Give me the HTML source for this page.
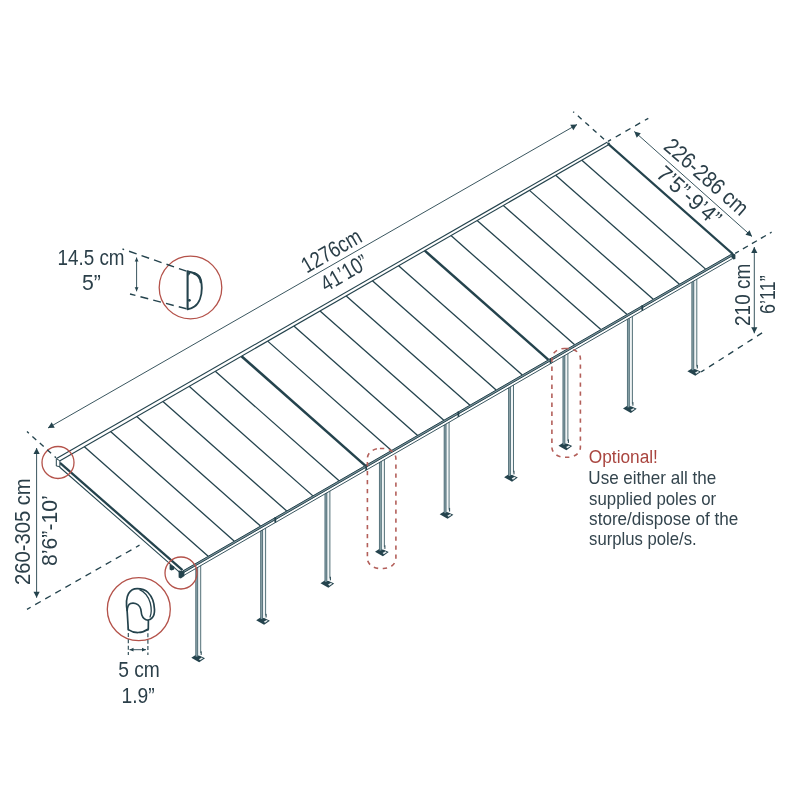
<!DOCTYPE html>
<html lang="en"><head><meta charset="utf-8"><title>Patio cover dimensions</title>
<style>
html,body{margin:0;padding:0;background:#fff;}
body{width:800px;height:800px;overflow:hidden;}
svg{display:block;will-change:transform;}
text{font-family:"Liberation Sans",sans-serif;}
</style></head><body>
<svg width="800" height="800" viewBox="0 0 800 800">
<rect width="800" height="800" fill="#fff"/>
<polygon points="58.2,460.2 608.0,142.75 732.4,253.65 182.6,571.1" fill="#fff"/>
<polygon points="191.30,657.73 196.70,654.33 205.00,658.13 199.20,662.23" fill="#24434d"/>
<polygon points="198.90,659.13 201.70,657.43 203.10,658.33 200.10,660.23" fill="#e8eef0"/>
<rect x="199.50" y="651.33" width="2.2" height="3.6" fill="#24434d"/>
<rect x="195.70" y="565.03" width="5.0" height="90.50" fill="#f1f5f6"/>
<rect x="195.70" y="565.03" width="2.0" height="91.50" fill="#8ea6ac"/>
<line x1="195.75" y1="565.03" x2="195.75" y2="656.53" stroke="#365761" stroke-width="0.75" />
<line x1="197.65" y1="565.03" x2="197.65" y2="656.53" stroke="#365761" stroke-width="0.75" />
<line x1="200.70" y1="565.03" x2="200.70" y2="653.03" stroke="#365761" stroke-width="0.85" />
<polygon points="256.20,620.26 261.60,616.86 269.90,620.66 264.10,624.76" fill="#24434d"/>
<polygon points="263.80,621.66 266.60,619.96 268.00,620.86 265.00,622.76" fill="#e8eef0"/>
<rect x="264.40" y="613.86" width="2.2" height="3.6" fill="#24434d"/>
<rect x="260.60" y="527.56" width="5.0" height="90.50" fill="#f1f5f6"/>
<rect x="260.60" y="527.56" width="2.0" height="91.50" fill="#8ea6ac"/>
<line x1="260.65" y1="527.56" x2="260.65" y2="619.06" stroke="#365761" stroke-width="0.75" />
<line x1="262.55" y1="527.56" x2="262.55" y2="619.06" stroke="#365761" stroke-width="0.75" />
<line x1="265.60" y1="527.56" x2="265.60" y2="615.56" stroke="#365761" stroke-width="0.85" />
<polygon points="320.50,583.14 325.90,579.74 334.20,583.54 328.40,587.64" fill="#24434d"/>
<polygon points="328.10,584.54 330.90,582.84 332.30,583.74 329.30,585.64" fill="#e8eef0"/>
<rect x="328.70" y="576.74" width="2.2" height="3.6" fill="#24434d"/>
<rect x="324.90" y="490.44" width="5.0" height="90.50" fill="#f1f5f6"/>
<rect x="324.90" y="490.44" width="2.0" height="91.50" fill="#8ea6ac"/>
<line x1="324.95" y1="490.44" x2="324.95" y2="581.94" stroke="#365761" stroke-width="0.75" />
<line x1="326.85" y1="490.44" x2="326.85" y2="581.94" stroke="#365761" stroke-width="0.75" />
<line x1="329.90" y1="490.44" x2="329.90" y2="578.44" stroke="#365761" stroke-width="0.85" />
<polygon points="375.00,551.67 380.40,548.27 388.70,552.07 382.90,556.17" fill="#24434d"/>
<polygon points="382.60,553.07 385.40,551.37 386.80,552.27 383.80,554.17" fill="#e8eef0"/>
<rect x="383.20" y="545.27" width="2.2" height="3.6" fill="#24434d"/>
<rect x="379.40" y="458.97" width="5.0" height="90.50" fill="#f1f5f6"/>
<rect x="379.40" y="458.97" width="2.0" height="91.50" fill="#8ea6ac"/>
<line x1="379.45" y1="458.97" x2="379.45" y2="550.47" stroke="#365761" stroke-width="0.75" />
<line x1="381.35" y1="458.97" x2="381.35" y2="550.47" stroke="#365761" stroke-width="0.75" />
<line x1="384.40" y1="458.97" x2="384.40" y2="546.97" stroke="#365761" stroke-width="0.85" />
<polygon points="439.70,514.31 445.10,510.91 453.40,514.71 447.60,518.81" fill="#24434d"/>
<polygon points="447.30,515.71 450.10,514.01 451.50,514.91 448.50,516.81" fill="#e8eef0"/>
<rect x="447.90" y="507.91" width="2.2" height="3.6" fill="#24434d"/>
<rect x="444.10" y="421.61" width="5.0" height="90.50" fill="#f1f5f6"/>
<rect x="444.10" y="421.61" width="2.0" height="91.50" fill="#8ea6ac"/>
<line x1="444.15" y1="421.61" x2="444.15" y2="513.11" stroke="#365761" stroke-width="0.75" />
<line x1="446.05" y1="421.61" x2="446.05" y2="513.11" stroke="#365761" stroke-width="0.75" />
<line x1="449.10" y1="421.61" x2="449.10" y2="509.61" stroke="#365761" stroke-width="0.85" />
<polygon points="504.10,477.13 509.50,473.73 517.80,477.53 512.00,481.63" fill="#24434d"/>
<polygon points="511.70,478.53 514.50,476.83 515.90,477.73 512.90,479.63" fill="#e8eef0"/>
<rect x="512.30" y="470.73" width="2.2" height="3.6" fill="#24434d"/>
<rect x="508.50" y="384.43" width="5.0" height="90.50" fill="#f1f5f6"/>
<rect x="508.50" y="384.43" width="2.0" height="91.50" fill="#8ea6ac"/>
<line x1="508.55" y1="384.43" x2="508.55" y2="475.93" stroke="#365761" stroke-width="0.75" />
<line x1="510.45" y1="384.43" x2="510.45" y2="475.93" stroke="#365761" stroke-width="0.75" />
<line x1="513.50" y1="384.43" x2="513.50" y2="472.43" stroke="#365761" stroke-width="0.85" />
<polygon points="558.50,445.72 563.90,442.32 572.20,446.12 566.40,450.22" fill="#24434d"/>
<polygon points="566.10,447.12 568.90,445.42 570.30,446.32 567.30,448.22" fill="#e8eef0"/>
<rect x="566.70" y="439.32" width="2.2" height="3.6" fill="#24434d"/>
<rect x="562.90" y="353.02" width="5.0" height="90.50" fill="#f1f5f6"/>
<rect x="562.90" y="353.02" width="2.0" height="91.50" fill="#8ea6ac"/>
<line x1="562.95" y1="353.02" x2="562.95" y2="444.52" stroke="#365761" stroke-width="0.75" />
<line x1="564.85" y1="353.02" x2="564.85" y2="444.52" stroke="#365761" stroke-width="0.75" />
<line x1="567.90" y1="353.02" x2="567.90" y2="441.02" stroke="#365761" stroke-width="0.85" />
<polygon points="623.00,408.47 628.40,405.07 636.70,408.87 630.90,412.97" fill="#24434d"/>
<polygon points="630.60,409.87 633.40,408.17 634.80,409.07 631.80,410.97" fill="#e8eef0"/>
<rect x="631.20" y="402.07" width="2.2" height="3.6" fill="#24434d"/>
<rect x="627.40" y="315.77" width="5.0" height="90.50" fill="#f1f5f6"/>
<rect x="627.40" y="315.77" width="2.0" height="91.50" fill="#8ea6ac"/>
<line x1="627.45" y1="315.77" x2="627.45" y2="407.27" stroke="#365761" stroke-width="0.75" />
<line x1="629.35" y1="315.77" x2="629.35" y2="407.27" stroke="#365761" stroke-width="0.75" />
<line x1="632.40" y1="315.77" x2="632.40" y2="403.77" stroke="#365761" stroke-width="0.85" />
<polygon points="687.40,371.29 692.80,367.89 701.10,371.69 695.30,375.79" fill="#24434d"/>
<polygon points="695.00,372.69 697.80,370.99 699.20,371.89 696.20,373.79" fill="#e8eef0"/>
<rect x="695.60" y="364.89" width="2.2" height="3.6" fill="#24434d"/>
<rect x="691.80" y="278.59" width="5.0" height="90.50" fill="#f1f5f6"/>
<rect x="691.80" y="278.59" width="2.0" height="91.50" fill="#8ea6ac"/>
<line x1="691.85" y1="278.59" x2="691.85" y2="370.09" stroke="#365761" stroke-width="0.75" />
<line x1="693.75" y1="278.59" x2="693.75" y2="370.09" stroke="#365761" stroke-width="0.75" />
<line x1="696.80" y1="278.59" x2="696.80" y2="366.59" stroke="#365761" stroke-width="0.85" />
<line x1="56.50" y1="458.50" x2="607.50" y2="142.00" stroke="#24434d" stroke-width="1.1" />
<line x1="60.00" y1="460.70" x2="609.00" y2="144.60" stroke="#24434d" stroke-width="1.1" />
<line x1="84.38" y1="446.66" x2="208.18" y2="556.33" stroke="#24434d" stroke-width="1.3" />
<line x1="110.57" y1="431.58" x2="234.36" y2="541.21" stroke="#24434d" stroke-width="1.3" />
<line x1="136.75" y1="416.51" x2="260.54" y2="526.10" stroke="#24434d" stroke-width="1.3" />
<line x1="162.94" y1="401.43" x2="286.72" y2="510.98" stroke="#24434d" stroke-width="1.3" />
<line x1="189.12" y1="386.36" x2="312.90" y2="495.87" stroke="#24434d" stroke-width="1.3" />
<line x1="215.30" y1="371.28" x2="339.08" y2="480.75" stroke="#24434d" stroke-width="1.3" />
<line x1="241.49" y1="356.20" x2="365.26" y2="465.63" stroke="#24434d" stroke-width="2.5" />
<line x1="267.67" y1="341.13" x2="391.44" y2="450.52" stroke="#24434d" stroke-width="1.3" />
<line x1="293.86" y1="326.05" x2="417.62" y2="435.40" stroke="#24434d" stroke-width="1.3" />
<line x1="320.04" y1="310.98" x2="443.80" y2="420.29" stroke="#24434d" stroke-width="1.3" />
<line x1="346.22" y1="295.90" x2="469.98" y2="405.17" stroke="#24434d" stroke-width="1.3" />
<line x1="372.41" y1="280.82" x2="496.16" y2="390.05" stroke="#24434d" stroke-width="1.3" />
<line x1="398.59" y1="265.75" x2="522.34" y2="374.94" stroke="#24434d" stroke-width="1.3" />
<line x1="424.78" y1="250.67" x2="548.52" y2="359.82" stroke="#24434d" stroke-width="2.5" />
<line x1="450.96" y1="235.60" x2="574.70" y2="344.70" stroke="#24434d" stroke-width="1.3" />
<line x1="477.14" y1="220.52" x2="600.88" y2="329.59" stroke="#24434d" stroke-width="1.3" />
<line x1="503.33" y1="205.44" x2="627.06" y2="314.47" stroke="#24434d" stroke-width="1.3" />
<line x1="529.51" y1="190.37" x2="653.24" y2="299.36" stroke="#24434d" stroke-width="1.3" />
<line x1="555.70" y1="175.29" x2="679.42" y2="284.24" stroke="#24434d" stroke-width="1.3" />
<line x1="581.88" y1="160.21" x2="705.60" y2="269.12" stroke="#24434d" stroke-width="1.3" />
<line x1="609.00" y1="144.60" x2="732.40" y2="253.65" stroke="#24434d" stroke-width="2.1" />
<circle cx="608.6" cy="143.8" r="1.4" fill="#24434d"/>
<line x1="60.00" y1="462.90" x2="182.50" y2="570.20" stroke="#24434d" stroke-width="2.3" />
<line x1="59.50" y1="467.00" x2="180.00" y2="572.60" stroke="#24434d" stroke-width="1.05" />
<path d="M56.3,458.6 L59.9,460.8 L59.9,466.6 L56.3,466.0 Z" fill="#fff" stroke="#24434d" stroke-width="1"/>
<polygon points="182.6,571.1 732.4,253.65 732.4,258.65 182.6,576.1" fill="#fff"/>
<polygon points="182.6,571.1 732.4,253.65 732.4,255.75 182.6,573.2" fill="#7f969d"/>
<line x1="182.60" y1="571.10" x2="732.40" y2="253.65" stroke="#24434d" stroke-width="1.0" />
<line x1="182.60" y1="573.20" x2="732.40" y2="255.75" stroke="#24434d" stroke-width="1.0" />
<line x1="182.60" y1="576.10" x2="732.40" y2="258.65" stroke="#24434d" stroke-width="0.9" />
<line x1="275.30" y1="517.18" x2="275.30" y2="522.58" stroke="#24434d" stroke-width="1.8" />
<line x1="366.20" y1="464.69" x2="366.20" y2="470.09" stroke="#24434d" stroke-width="1.8" />
<line x1="458.40" y1="411.46" x2="458.40" y2="416.86" stroke="#24434d" stroke-width="1.8" />
<line x1="550.60" y1="358.22" x2="550.60" y2="363.62" stroke="#24434d" stroke-width="1.8" />
<line x1="642.30" y1="305.27" x2="642.30" y2="310.67" stroke="#24434d" stroke-width="1.8" />
<path d="M178.6,570.6 L184.4,571.2 L184.4,576 L180.8,578.6 L178.6,577.4 Z" fill="#24434d"/>
<path d="M169.6,564.6 L174.2,566.6 L174.2,569.4 L171.4,570.6 L169.6,569.6 Z" fill="#24434d"/>
<path d="M731.6,252.6 L735.4,254.6 L735.4,259.0 L733.2,259.6 L731.6,257.5 Z" fill="#24434d"/>
<circle cx="58" cy="462.5" r="16" fill="none" stroke="#b4524a" stroke-width="1.3"/>
<circle cx="181" cy="573" r="16" fill="none" stroke="#b4524a" stroke-width="1.3"/>
<circle cx="190.5" cy="287.5" r="31.3" fill="none" stroke="#b4524a" stroke-width="1.3"/>
<circle cx="138.8" cy="609.2" r="31.5" fill="none" stroke="#b4524a" stroke-width="1.3"/>
<rect x="367.4" y="448.5" width="28.5" height="120" rx="12.5" ry="10" fill="none" stroke="#b35f5a" stroke-width="1.6" stroke-dasharray="4.4 4.6"/>
<rect x="551.9" y="348.5" width="28.5" height="108.8" rx="12.5" ry="10" fill="none" stroke="#b35f5a" stroke-width="1.6" stroke-dasharray="4.4 4.6"/>
<line x1="48.00" y1="428.00" x2="577.00" y2="124.50" stroke="#24434d" stroke-width="0.9" />
<polygon points="577.00,124.50 573.34,130.17 570.25,124.80" fill="#24434d"/>
<polygon points="48.00,428.00 54.75,427.70 51.66,422.33" fill="#24434d"/>
<line x1="634.30" y1="131.50" x2="752.00" y2="236.50" stroke="#24434d" stroke-width="0.9" />
<polygon points="752.00,236.50 745.46,234.82 749.59,230.19" fill="#24434d"/>
<polygon points="634.30,131.50 636.71,137.81 640.84,133.18" fill="#24434d"/>
<line x1="754.30" y1="247.00" x2="754.30" y2="333.30" stroke="#24434d" stroke-width="0.9" />
<polygon points="754.30,333.30 751.20,327.30 757.40,327.30" fill="#24434d"/>
<polygon points="754.30,247.00 751.20,253.00 757.40,253.00" fill="#24434d"/>
<line x1="36.60" y1="448.00" x2="36.60" y2="597.70" stroke="#24434d" stroke-width="0.9" />
<polygon points="36.60,597.70 33.50,591.70 39.70,591.70" fill="#24434d"/>
<polygon points="36.60,448.00 33.50,454.00 39.70,454.00" fill="#24434d"/>
<line x1="136.60" y1="257.50" x2="136.60" y2="291.30" stroke="#24434d" stroke-width="0.9" />
<polygon points="136.60,291.30 134.70,287.30 138.50,287.30" fill="#24434d"/>
<polygon points="136.60,257.50 134.70,261.50 138.50,261.50" fill="#24434d"/>
<line x1="129.50" y1="649.70" x2="146.00" y2="649.70" stroke="#24434d" stroke-width="0.9" />
<polygon points="146.00,649.70 142.00,651.60 142.00,647.80" fill="#24434d"/>
<polygon points="129.50,649.70 133.50,651.60 133.50,647.80" fill="#24434d"/>
<line x1="607.50" y1="142.30" x2="573.20" y2="111.70" stroke="#24434d" stroke-width="1.35" stroke-dasharray="5 5" stroke-dashoffset="5.3"/>
<line x1="608.00" y1="141.40" x2="648.30" y2="118.30" stroke="#24434d" stroke-width="1.35" stroke-dasharray="5.8 5.4" stroke-dashoffset="2.3"/>
<line x1="735.20" y1="253.40" x2="771.60" y2="232.20" stroke="#24434d" stroke-width="1.35" stroke-dasharray="5.8 4.6" stroke-dashoffset="1.5"/>
<line x1="701.20" y1="371.90" x2="763.20" y2="332.20" stroke="#24434d" stroke-width="1.35" stroke-dasharray="6 5.4" stroke-dashoffset="2.1"/>
<line x1="27.00" y1="431.50" x2="56.00" y2="457.80" stroke="#24434d" stroke-width="1.35" stroke-dasharray="5.2 4.8" stroke-dashoffset="2.7"/>
<line x1="27.00" y1="609.30" x2="139.50" y2="545.20" stroke="#24434d" stroke-width="1.35" stroke-dasharray="6.4 5.2" stroke-dashoffset="2.2"/>
<line x1="186.50" y1="271.20" x2="122.50" y2="249.00" stroke="#24434d" stroke-width="1.4" stroke-dasharray="8 5.2"/>
<line x1="186.50" y1="308.80" x2="130.00" y2="294.00" stroke="#24434d" stroke-width="1.4" stroke-dasharray="8 5.2"/>
<line x1="128.30" y1="626.50" x2="128.30" y2="655.00" stroke="#24434d" stroke-width="1.1" stroke-dasharray="4 2.4"/>
<line x1="147.90" y1="620.50" x2="147.90" y2="655.00" stroke="#24434d" stroke-width="1.1" stroke-dasharray="4 2.4"/>
<path d="M187.6,271.4 L187.6,309.2" fill="none" stroke="#24434d" stroke-width="2.1" stroke-linecap="round"/>
<path d="M187.6,271.5 C192,272.2 196,273.5 198.6,276 C201,279 201.8,284 201.8,288 C201.8,296 199,303.5 194.5,306.5 C192,308.3 190,309.1 187.6,309.2" fill="none" stroke="#24434d" stroke-width="1.9" stroke-linejoin="round"/>
<path d="M194.5,273.6 C198.5,275 200.3,278 200.9,282" fill="none" stroke="#24434d" stroke-width="2.6" stroke-linecap="round"/>
<path d="M188,272.5 L190.5,273.2 L188.5,276 Z" fill="#24434d"/>
<circle cx="189.4" cy="300.3" r="1.4" fill="#24434d"/>
<path d="M128.3,629.6 L127.2,612 C126.3,606 125.8,598 128.6,593.5 C130.8,590 134,588.7 137.2,588.7 C141,588.7 145,589.6 148,592.5 C151.5,596 154.3,603 154.5,609.5 C154.6,613 153.8,616 152.3,617.6 C151,619 149.6,619.7 148.4,620 L148.3,629 C142,633.6 134,633.6 128.3,629.6 Z" fill="#fff" stroke="#24434d" stroke-width="1.7" stroke-linejoin="round"/>
<path d="M139.5,589.6 C144,591.5 148.3,596 150.3,603 C151.5,608 151.8,613 149.9,617.6" fill="none" stroke="#24434d" stroke-width="1.3"/>
<path d="M127.2,611 C127.3,607 128.3,604.6 130.6,603.6 C133.5,602.4 137.5,603.6 139.7,606.6 C141.4,609 141,612.5 141.8,615 C142.8,618 145,619.8 148.2,620.2" fill="none" stroke="#24434d" stroke-width="1.6"/>
<text transform="translate(58.90,265.00) rotate(0) translate(-1.41,0) scale(0.8382,1)" font-size="22.5" fill="#2b3f49">14.5 cm</text>
<text transform="translate(82.90,290.20) rotate(0) translate(-0.85,0) scale(0.9438,1)" font-size="22.5" fill="#2b3f49">5”</text>
<text transform="translate(118.90,677.00) rotate(0) translate(-0.77,0) scale(0.8545,1)" font-size="22.5" fill="#2b3f49">5 cm</text>
<text transform="translate(123.00,702.50) rotate(0) translate(-1.44,0) scale(0.8558,1)" font-size="22.5" fill="#2b3f49">1.9”</text>
<text transform="translate(308.00,273.10) rotate(-30) translate(-1.38,0) scale(0.8187,1)" font-size="22.5" fill="#2b3f49">1276cm</text>
<text transform="translate(326.40,292.10) rotate(-30) translate(-0.37,0) scale(0.8137,1)" font-size="22.5" fill="#2b3f49">41’10”</text>
<text transform="translate(663.20,148.80) rotate(41.4) translate(-0.98,0) scale(0.8751,1)" font-size="22.5" fill="#2b3f49">226-286 cm</text>
<text transform="translate(655.90,176.70) rotate(41.4) translate(-1.05,0) scale(0.9373,1)" font-size="22.5" fill="#2b3f49">7’5”-9’4”</text>
<text transform="translate(749.70,325.00) rotate(-90) translate(-0.95,0) scale(0.8425,1)" font-size="22.5" fill="#2b3f49">210 cm</text>
<text transform="translate(775.20,313.00) rotate(-90) translate(-0.90,0) scale(0.7983,1)" font-size="22.5" fill="#2b3f49">6’11”</text>
<text transform="translate(30.00,584.00) rotate(-90) translate(-1.01,0) scale(0.8983,1)" font-size="22.5" fill="#2b3f49">260-305 cm</text>
<text transform="translate(57.00,565.00) rotate(-90) translate(-0.95,0) scale(0.9426,1)" font-size="22.5" fill="#2b3f49">8’6”-10’</text>
<text transform="translate(589.60,463.30) rotate(0) translate(-0.78,0) scale(0.9602,1)" font-size="18" fill="#a9453f">Optional!</text>
<text transform="translate(589.60,484.00) rotate(0) translate(-1.28,0) scale(0.9479,1)" font-size="18" fill="#34454e">Use either all the</text>
<text transform="translate(589.60,504.50) rotate(0) translate(-0.50,0) scale(0.9352,1)" font-size="18" fill="#34454e">supplied poles or</text>
<text transform="translate(589.60,524.70) rotate(0) translate(-0.51,0) scale(0.9505,1)" font-size="18" fill="#34454e">store/dispose of the</text>
<text transform="translate(589.60,545.00) rotate(0) translate(-0.50,0) scale(0.9275,1)" font-size="18" fill="#34454e">surplus pole/s.</text>
</svg>
</body></html>
